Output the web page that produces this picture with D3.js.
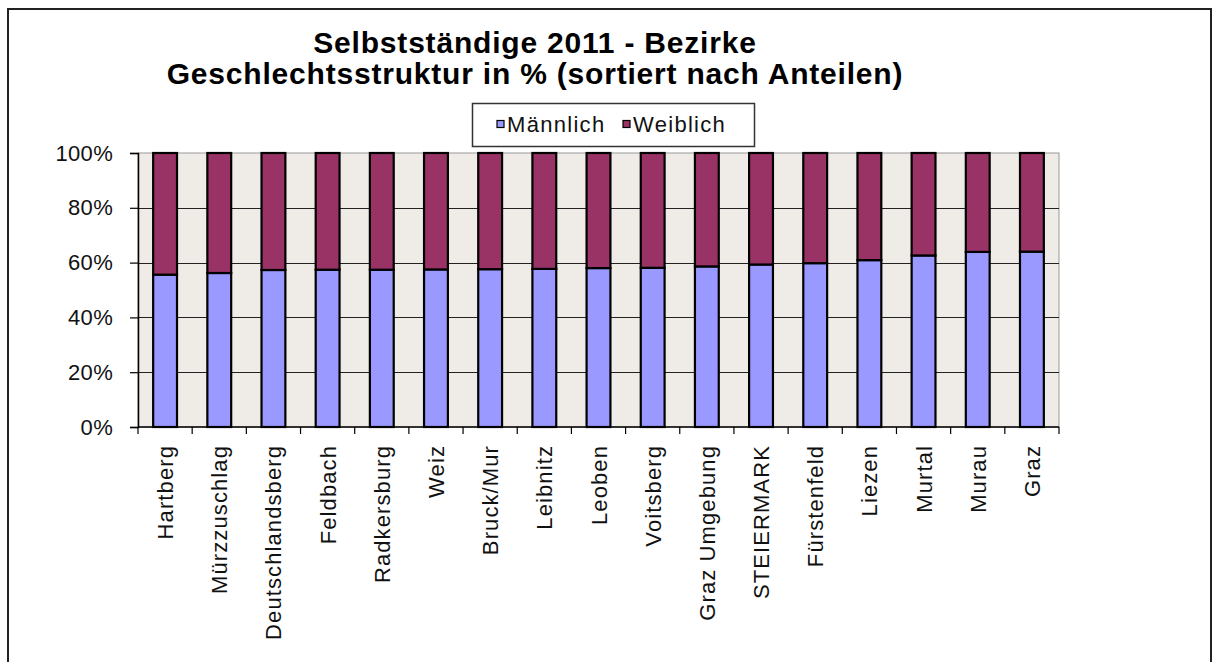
<!DOCTYPE html>
<html>
<head>
<meta charset="utf-8">
<script src="https://cdn.jsdelivr.net/npm/d3@7/dist/d3.min.js"></script>
<style>
  html, body { margin: 0; padding: 0; background: #fff; }
  svg { display: block; font-family: "Liberation Sans", Arial, sans-serif; }
</style>
</head>
<body>
<svg id="chart" width="1213" height="662"></svg>
<script>
// Districts, sorted by male share
const categories = ["Hartberg", "Mürzzuschlag", "Deutschlandsberg", "Feldbach", "Radkersburg",
  "Weiz", "Bruck/Mur", "Leibnitz", "Leoben", "Voitsberg", "Graz Umgebung", "STEIERMARK",
  "Fürstenfeld", "Liezen", "Murtal", "Murau", "Graz"];
const maennlich = [55.6, 56.2, 57.3, 57.4, 57.4, 57.5, 57.6, 57.7, 58.0, 58.1, 58.6, 59.3, 59.8, 60.9, 62.6, 63.9, 64.0];
const weiblich  = [44.4, 43.8, 42.7, 42.6, 42.6, 42.5, 42.4, 42.3, 42.0, 41.9, 41.4, 40.7, 40.2, 39.1, 37.4, 36.1, 36.0];
const seriesNames = ["Männlich", "Weiblich"];
const seriesColors = ["#9999ff", "#993366"];
const yTicks = [0, 20, 40, 60, 80, 100];
const titleLines = ["Selbstständige 2011 - Bezirke", "Geschlechtsstruktur in % (sortiert nach Anteilen)"];

const svg = d3.select("#chart");

// outer frame
svg.append("rect")
  .attr("x", 8).attr("y", 9).attr("width", 1203).attr("height", 670)
  .attr("fill", "#fff").attr("stroke", "#222").attr("stroke-width", 2);

const plot = { left: 138, right: 1059, top: 153, bottom: 427 };

const x = d3.scaleBand().domain(categories).range([plot.left, plot.right]).paddingInner(0.56).paddingOuter(0.28);
const y = d3.scaleLinear().domain([0, 100]).range([plot.bottom, plot.top]);

// plot area background
svg.append("rect")
  .attr("x", plot.left).attr("y", plot.top)
  .attr("width", plot.right - plot.left).attr("height", plot.bottom - plot.top)
  .attr("fill", "#efebe6").attr("stroke", "#9a9a9a").attr("stroke-width", 1);

// horizontal gridlines
svg.append("g").selectAll("line")
  .data(yTicks.filter(t => t > 0 && t < 100))
  .join("line")
  .attr("x1", plot.left).attr("x2", plot.right)
  .attr("y1", d => Math.round(y(d)) + 0.5).attr("y2", d => Math.round(y(d)) + 0.5)
  .attr("stroke", "#222").attr("stroke-width", 1);

// stacked bars
const stackData = categories.map((c, i) => ({ cat: c, "Männlich": maennlich[i], "Weiblich": weiblich[i] }));
const stacked = d3.stack().keys(seriesNames)(stackData);

svg.append("g").selectAll("g")
  .data(stacked)
  .join("g")
  .attr("fill", (d, i) => seriesColors[i])
  .selectAll("rect")
  .data(d => d)
  .join("rect")
  .attr("x", d => x(d.data.cat))
  .attr("y", d => y(d[1]))
  .attr("width", x.bandwidth())
  .attr("height", d => y(d[0]) - y(d[1]))
  .attr("stroke", "#000")
  .attr("stroke-width", 2.2);

// y axis
const yAxis = d3.axisLeft(y).tickValues(yTicks).tickFormat(d => d + "%").tickSize(8).tickPadding(17);
const gy = svg.append("g").attr("transform", `translate(${plot.left},0)`).call(yAxis);
gy.select(".domain").attr("stroke", "#000").attr("stroke-width", 1.5);
gy.selectAll(".tick line").attr("stroke", "#000").attr("stroke-width", 1.2);
gy.selectAll(".tick text")
  .attr("font-family", "Liberation Sans, Arial, sans-serif")
  .attr("font-size", 22).attr("fill", "#111").attr("letter-spacing", "0.3px");

// x axis with ticks on category boundaries
svg.append("line")
  .attr("x1", plot.left).attr("x2", plot.right)
  .attr("y1", plot.bottom).attr("y2", plot.bottom)
  .attr("stroke", "#000").attr("stroke-width", 1.5);
const step = x.step();
const bounds = d3.range(categories.length + 1).map(i => plot.left + (plot.right - plot.left) * i / categories.length);
svg.append("g").selectAll("line")
  .data(bounds)
  .join("line")
  .attr("x1", d => d).attr("x2", d => d)
  .attr("y1", plot.bottom).attr("y2", plot.bottom + 7)
  .attr("stroke", "#000").attr("stroke-width", 1.2);

// category labels, rotated
svg.append("g").selectAll("text")
  .data(categories)
  .join("text")
  .attr("transform", d => `translate(${x(d) + x.bandwidth() / 2 + 8},${plot.bottom + 18}) rotate(-90)`)
  .attr("text-anchor", "end")
  .attr("font-size", 22)
  .attr("letter-spacing", "1.1px")
  .attr("fill", "#111")
  .text(d => d);

// title
svg.append("g").selectAll("text")
  .data(titleLines)
  .join("text")
  .attr("x", 535)
  .attr("y", (d, i) => 53 + i * 30.5)
  .attr("text-anchor", "middle")
  .attr("font-size", 30)
  .attr("font-weight", "bold")
  .attr("letter-spacing", "0.8px")
  .attr("fill", "#000")
  .text(d => d);

// legend
const legend = svg.append("g");
legend.append("rect")
  .attr("x", 472.5).attr("y", 103.5).attr("width", 282).attr("height", 43)
  .attr("fill", "#fff").attr("stroke", "#333").attr("stroke-width", 1.5);
const legendX = [497, 623];
seriesNames.forEach((name, i) => {
  legend.append("rect")
    .attr("x", legendX[i]).attr("y", 120.5).attr("width", 7).attr("height", 7)
    .attr("fill", seriesColors[i]).attr("stroke", "#000").attr("stroke-width", 1.2);
  legend.append("text")
    .attr("x", legendX[i] + 10).attr("y", 132)
    .attr("font-size", 22)
    .attr("letter-spacing", "1.3px")
    .attr("fill", "#111")
    .text(name);
});
</script>
</body>
</html>
